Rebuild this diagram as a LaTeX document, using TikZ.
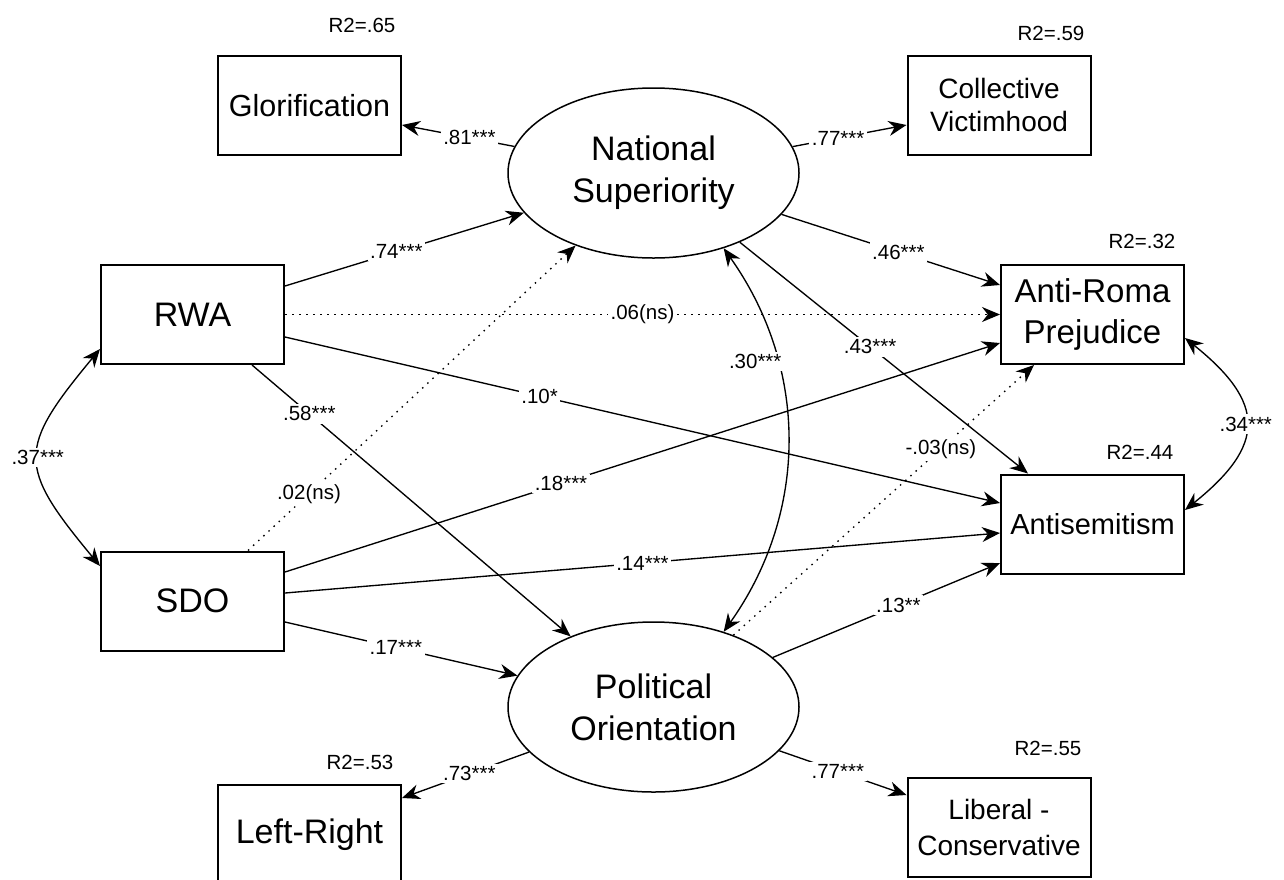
\documentclass[tikz,border=0pt]{standalone}
\usepackage{fontspec}
\setmainfont{Liberation Sans}
\usetikzlibrary{arrows.meta,shapes.geometric}
\begin{document}
\begin{tikzpicture}[x=1pt,y=-1pt,
  obs/.style={draw, line width=2pt, minimum width=183pt, minimum height=99pt, inner sep=0pt, align=center},
  lat/.style={draw, ellipse, line width=1.5pt, minimum width=291pt, minimum height=170pt, inner sep=0pt, align=center, font=\fontsize{34}{42}\selectfont},
  lab/.style={fill=white, inner sep=2.5pt, font=\fontsize{20.5}{24}\selectfont},
  rtwo/.style={inner sep=0pt, font=\fontsize{20.5}{24}\selectfont},
  reg/.style={line width=1.35pt, -{Stealth[length=18pt,width=15pt]}},
  regdot/.style={reg, dash pattern=on 1.5pt off 5.5pt},
  cov/.style={line width=1.35pt, {Stealth[length=18pt,width=15pt]}-{Stealth[length=18pt,width=15pt]}}
]
\useasboundingbox (0,0) rectangle (1284,879);
\fill[white] (0,0) rectangle (1284,879);
\clip (0,0) rectangle (1284,879);

% nodes
\node[obs, font=\fontsize{30.5}{36}\selectfont] (glor) at (309.5,105.5) {Glorification};
\node[obs, font=\fontsize{28}{33}\selectfont] (cv) at (999,105) {Collective\\Victimhood};
\node[lat] (ns) at (653.5,173) {National\\Superiority};
\node[obs, font=\fontsize{34}{40}\selectfont] (rwa) at (192.5,314.5) {RWA};
\node[obs, font=\fontsize{34}{40}\selectfont] (sdo) at (192.5,601) {SDO};
\node[obs, font=\fontsize{33}{41}\selectfont] (ar) at (1092.5,314.5) {Anti-Roma\\Prejudice};
\node[obs, font=\fontsize{29}{34}\selectfont] (as) at (1092.5,524) {Antisemitism};
\node[lat] (po) at (653.5,707) {Political\\Orientation};
\node[obs, font=\fontsize{34}{40}\selectfont] (lr) at (309.5,834.5) {Left-Right};
\node[obs, font=\fontsize{28}{36}\selectfont] (lc) at (999,827) {Liberal -\\Conservative};

% R2 labels
\node[rtwo] (r2g) at (362,25) {R2=.65};
\node[rtwo] (r2c) at (1051,33) {R2=.59};
\node[rtwo] (r2a) at (1142,241) {R2=.32};
\node[rtwo] (r2s) at (1140,452) {R2=.44};
\node[rtwo] (r2l) at (360,762) {R2=.53};
\node[rtwo] (r2k) at (1048,748) {R2=.55};

% loadings
\draw[reg] (ns) -- ([yshift=-19.5pt]glor.east) node[lab,pos=0.4] {.81***};
\draw[reg] (ns) -- ([yshift=-20pt]cv.west) node[lab,pos=0.4] {.77***};
\draw[reg] (po) -- ([yshift=36.5pt]lr.east) node[lab,pos=0.47] {.73***};
\draw[reg] (po) -- ([yshift=32pt]lc.west) node[lab,pos=0.46] {.77***};

% structural paths
\draw[reg] ([yshift=28.5pt]rwa.east) -- (ns) node[lab,pos=0.466] {.74***};
\draw[regdot] (rwa.east) -- (ar.west) node[lab,pos=0.5] {.06(ns)};
\draw[reg] ([yshift=-22.5pt]rwa.east) -- ([yshift=21pt]as.west) node[lab,pos=0.356] {.10*};
\draw[reg] ([xshift=59.5pt]rwa.south) -- (po) node[lab,pos=0.18] {.58***};
\draw[regdot] ([xshift=55.5pt]sdo.north) -- (ns) node[lab,pos=0.186] {.02(ns)};
\draw[reg] ([yshift=29pt]sdo.east) -- ([yshift=-28.5pt]ar.west) node[lab,pos=0.386] {.18***};
\draw[reg] ([yshift=8pt]sdo.east) -- ([yshift=-9pt]as.west) node[lab,pos=0.5] {.14***};
\draw[reg] ([yshift=-21pt]sdo.east) -- (po) node[lab,pos=0.477] {.17***};
\draw[reg] (ns) -- ([yshift=29.5pt]ar.west) node[lab,pos=0.535] {.46***};
\draw[reg] (ns) -- ([xshift=-64.5pt]as.north) node[lab,pos=0.452] {.43***};
\draw[regdot] (po) -- ([xshift=-58.5pt]ar.south) node[lab,pos=0.69] {-.03(ns)};
\draw[reg] (po) -- ([yshift=-39pt]as.west) node[lab,pos=0.553] {.13**};

% covariances
\draw[cov] ([yshift=-34.5pt]rwa.west) .. controls +(-83,100) and +(-83,-100) .. ([yshift=35pt]sdo.west) node[lab,pos=0.5] {.37***};
\draw[cov] ([yshift=-23.5pt]ar.east) .. controls +(81,65) and +(81,-65) .. ([yshift=14pt]as.east) node[lab,pos=0.5] {.34***};
\draw[cov] (ns.-47.6) .. controls +(85,120) and +(85,-120) .. (po.47.2) node[lab,pos=0.3,xshift=-22pt] {.30***};
\end{tikzpicture}
\end{document}
